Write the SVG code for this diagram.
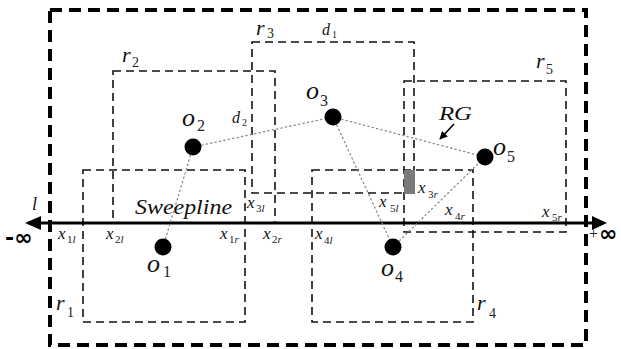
<svg xmlns="http://www.w3.org/2000/svg" width="621" height="349" viewBox="0 0 621 349">
<style>
.rect{fill:none;stroke:#111;stroke-width:1.6;stroke-dasharray:8 5}
.outer{fill:none;stroke:#000;stroke-width:4;stroke-dasharray:12 7}
.dot{fill:none;stroke:#8a8a8a;stroke-width:1.3;stroke-dasharray:1.3 3.2;stroke-linecap:round}
.m{font-style:italic;fill:#111}
.s{fill:#222}
.inf{font-weight:bold;fill:#000}
.obj{fill:#000}
</style>
<defs>
<marker id="ah" viewBox="0 0 10 10" refX="9" refY="5" markerWidth="5" markerHeight="5" orient="auto" markerUnits="strokeWidth">
<path d="M0,0 L10,5 L0,10 z" fill="#000"/>
</marker>
</defs>

<g id="boundary">
<rect class="outer" x="50" y="10" width="536" height="335"/>
</g>

<g font-family="Liberation Serif, DejaVu Serif, serif">
<g id="r1">
<rect class="rect" x="83" y="170" width="162" height="152"/>
<text class="m" x="56" y="310" font-size="22">r</text><text class="s" x="67" y="317" font-size="14">1</text>
</g>
<g id="r2">
<rect class="rect" x="113" y="71" width="162" height="152"/>
<text class="m" x="122" y="62" font-size="22">r</text><text class="s" x="132" y="67" font-size="14">2</text>
</g>
<g id="r3">
<rect class="rect" x="252" y="42" width="162" height="151"/>
<text class="m" x="256" y="35" font-size="22">r</text><text class="s" x="267" y="38" font-size="14">3</text>
</g>
<g id="r4">
<rect class="rect" x="312" y="170" width="161" height="152"/>
<text class="m" x="477" y="310" font-size="22">r</text><text class="s" x="489" y="318" font-size="14">4</text>
</g>
<g id="r5">
<rect class="rect" x="404" y="81" width="162" height="151"/>
<text class="m" x="536" y="68" font-size="22">r</text><text class="s" x="546" y="74" font-size="14">5</text>
</g>

<g id="overlap">
<rect x="404" y="170" width="11" height="24" fill="#7a7a7a"/>
</g>

<g id="connectors">
<line x1="41" y1="223" x2="592" y2="223" stroke="#000" stroke-width="3"/>
<polygon points="25,223 41,216 41,230" fill="#000"/>
<polygon points="607,223 592,216 592,230" fill="#000"/>
<line class="dot" x1="193" y1="147" x2="333" y2="117"/>
<line class="dot" x1="333" y1="117" x2="485" y2="157"/>
<line class="dot" x1="193" y1="147" x2="163" y2="247"/>
<line class="dot" x1="333" y1="117" x2="393" y2="247"/>
<line class="dot" x1="393" y1="247" x2="485" y2="157"/>
<line x1="454" y1="124" x2="440" y2="139" stroke="#000" stroke-width="1.6" marker-end="url(#ah)"/>
</g>

<g id="o1">
<circle class="obj" cx="163" cy="247" r="8.5"/>
<text class="m" x="147" y="272" font-size="26">o</text><text class="s" x="163" y="277" font-size="16">1</text>
</g>
<g id="o2">
<circle class="obj" cx="193" cy="147" r="8.5"/>
<text class="m" x="182" y="126" font-size="26">o</text><text class="s" x="197" y="131" font-size="16">2</text>
</g>
<g id="o3">
<circle class="obj" cx="333" cy="117" r="8.5"/>
<text class="m" x="306" y="99" font-size="26">o</text><text class="s" x="320" y="106" font-size="16">3</text>
</g>
<g id="o4">
<circle class="obj" cx="393" cy="247" r="8.5"/>
<text class="m" x="381" y="276" font-size="26">o</text><text class="s" x="395" y="282" font-size="16">4</text>
</g>
<g id="o5">
<circle class="obj" cx="485" cy="157" r="8.5"/>
<text class="m" x="493" y="155" font-size="26">o</text><text class="s" x="507" y="162" font-size="16">5</text>
</g>

<g id="labels">
<text class="m" x="322" y="35" font-size="16">d</text><text class="s" x="332" y="38" font-size="10" fill="#3b5f8a">1</text>
<text class="m" x="232" y="123" font-size="16">d</text><text class="s" x="242" y="126" font-size="10">2</text>
<text class="m" x="439" y="120" font-size="19" textLength="33" lengthAdjust="spacingAndGlyphs">RG</text>
<text class="m" x="135" y="214" font-size="21" textLength="97" lengthAdjust="spacingAndGlyphs">Sweepline</text>
<text class="m" x="32" y="210" font-size="18">l</text>
<text class="inf" x="5" y="245" font-size="22" font-family="DejaVu Sans, sans-serif">-∞</text>
<text class="s" x="589" y="239" font-size="16">+</text><text class="inf" x="599" y="241" font-size="22" font-family="DejaVu Sans, sans-serif">∞</text>

<text class="m" x="58" y="239" font-size="17">x</text><text class="s" x="67" y="243" font-size="11">1<tspan font-style="italic">l</tspan></text>
<text class="m" x="106" y="239" font-size="17">x</text><text class="s" x="115" y="243" font-size="11">2<tspan font-style="italic">l</tspan></text>
<text class="m" x="220" y="239" font-size="17">x</text><text class="s" x="229" y="243" font-size="11">1<tspan font-style="italic">r</tspan></text>
<text class="m" x="263" y="239" font-size="17">x</text><text class="s" x="272" y="243" font-size="11">2<tspan font-style="italic">r</tspan></text>
<text class="m" x="247" y="208" font-size="17">x</text><text class="s" x="256" y="212" font-size="11">3<tspan font-style="italic">l</tspan></text>
<text class="m" x="315" y="239" font-size="17">x</text><text class="s" x="324" y="244" font-size="11">4<tspan font-style="italic">l</tspan></text>
<text class="m" x="379" y="207" font-size="17">x</text><text class="s" x="390" y="212" font-size="11">5<tspan font-style="italic">l</tspan></text>
<text class="m" x="418" y="193" font-size="17">x</text><text class="s" x="428" y="198" font-size="11">3<tspan font-style="italic">r</tspan></text>
<text class="m" x="445" y="215" font-size="17">x</text><text class="s" x="455" y="220" font-size="11">4<tspan font-style="italic">r</tspan></text>
<text class="m" x="542" y="217" font-size="17">x</text><text class="s" x="552" y="221" font-size="11">5<tspan font-style="italic">r</tspan></text>
</g>
</g>
</svg>
